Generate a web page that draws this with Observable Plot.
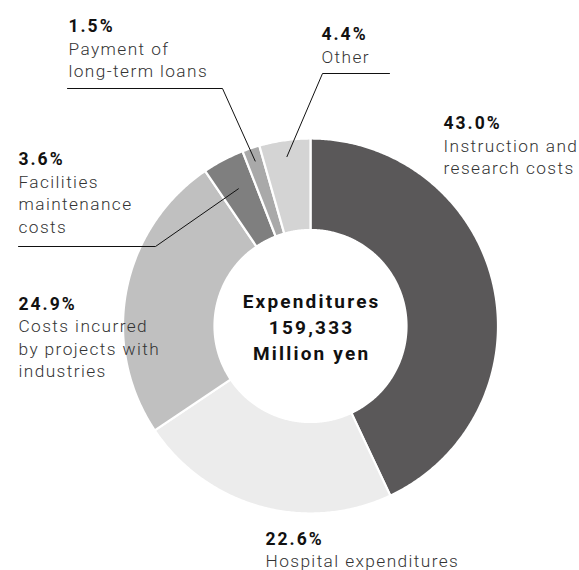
<!DOCTYPE html>
<html>
<head>
<meta charset="utf-8">
<script src="https://cdn.jsdelivr.net/npm/d3@7"></script>
<script src="https://cdn.jsdelivr.net/npm/@observablehq/plot@0.6"></script>
<style>
  html, body { margin: 0; padding: 0; background: #fff; }
</style>
</head>
<body>
<div id="chart"></div>
<script>
// ---- data ----
const categories = [
  "Instruction and research costs",
  "Hospital expenditures",
  "Costs incurred by projects with industries",
  "Facilities maintenance costs",
  "Payment of long-term loans",
  "Other"
];
const shares = [43.0, 22.6, 24.9, 3.6, 1.5, 4.4];
const sliceColors = ["#5a5859", "#ececec", "#c0c0c0", "#7f7f7f", "#a9a9a9", "#d4d4d4"];
const labelTexts = [
  "Instruction and\nresearch costs",
  "Hospital expenditures",
  "Costs incurred\nby projects with\nindustries",
  "Facilities\nmaintenance\ncosts",
  "Payment of\nlong-term loans",
  "Other"
];
const centerLines = ["Expenditures", "159,333", "Million yen"];

// ---- layout (pixels) ----
const W = 579, H = 570, cx = 310, cy = 325.5;
const rOuter = 187.5, rInner = 96;
// label anchor: left x and percent-line centre y (pixels)
const labelPos = [
  [443, 123], [265, 538.5], [18, 303.5], [18, 159], [68, 26], [321, 34]
];
const lineStep = 22.6;
// leader lines: slice index, horizontal start x, elbow x, y, radius of end point
const leaders = [
  {slice: 4, x0: 67, x1: 222, y: 88, r: 174},
  {slice: 5, x0: 389, x1: 322, y: 73, r: 171},
  {slice: 3, x0: 18, x1: 155, y: 246, r: 155}
];

const px = v => v - cx;       // pixel x -> data x
const py = v => cy - v;       // pixel y -> data y

const arcs = d3.pie().sort(null).startAngle(0).endAngle(2 * Math.PI)(shares);

// slice polygons
const polys = [];
arcs.forEach((a, i) => {
  const n = Math.max(2, Math.ceil((a.endAngle - a.startAngle) / (Math.PI / 360)));
  const pts = [];
  for (let k = 0; k <= n; k++) {
    const t = a.startAngle + (a.endAngle - a.startAngle) * k / n;
    pts.push({cat: categories[i], x: rOuter * Math.sin(t), y: rOuter * Math.cos(t)});
  }
  for (let k = n; k >= 0; k--) {
    const t = a.startAngle + (a.endAngle - a.startAngle) * k / n;
    pts.push({cat: categories[i], x: rInner * Math.sin(t), y: rInner * Math.cos(t)});
  }
  pts.push({...pts[0]});
  polys.push(...pts);
});

// leader line points
const leaderPts = [];
leaders.forEach((l, j) => {
  const a = arcs[l.slice];
  const mid = (a.startAngle + a.endAngle) / 2;
  leaderPts.push({id: j, x: px(l.x0), y: py(l.y)});
  leaderPts.push({id: j, x: px(l.x1), y: py(l.y)});
  leaderPts.push({id: j, x: l.r * Math.sin(mid), y: l.r * Math.cos(mid)});
});

const pctLabels = shares.map((s, i) => ({
  text: s.toFixed(1) + "%", x: px(labelPos[i][0]), y: py(labelPos[i][1])
}));
const catLabels = [];
labelTexts.forEach((t, i) => {
  t.split("\n").forEach((line, k) => {
    catLabels.push({text: line, x: px(labelPos[i][0]), y: py(labelPos[i][1] + lineStep * (k + 1))});
  });
});
const centerData = centerLines.map((t, k) => ({text: t, x: 0, y: py(301 + 26 * k)}));

const chart = Plot.plot({
  width: W,
  height: H,
  margin: 0,
  x: {domain: [-cx, W - cx], axis: null},
  y: {domain: [-(H - cy), cy], axis: null},
  color: {domain: categories, range: sliceColors},
  style: {fontFamily: "Roboto, 'Liberation Sans', sans-serif", background: "#fff"},
  marks: [
    Plot.line(polys, {x: "x", y: "y", z: "cat", fill: "cat", stroke: "white", strokeWidth: 2.2, curve: "linear"}),
    Plot.line(leaderPts, {x: "x", y: "y", z: "id", stroke: "#111", strokeWidth: 1}),
    Plot.text(pctLabels, {x: "x", y: "y", text: "text", textAnchor: "start", lineAnchor: "middle",
      fontSize: 17.5, fontWeight: "bold", fill: "#111", className: "pct"}),
    Plot.text(catLabels, {x: "x", y: "y", text: "text", textAnchor: "start", lineAnchor: "middle",
      fontSize: 17.3, fontWeight: 300, fill: "#333", className: "lab"}),
    Plot.text(centerData, {x: "x", y: "y", text: "text", textAnchor: "middle", lineAnchor: "middle",
      fontSize: 19, fontWeight: "bold", fill: "#111", className: "ctr"})
  ]
});
chart.querySelectorAll(".pct text").forEach(t => t.setAttribute("letter-spacing", "2"));
chart.querySelectorAll(".lab text").forEach(t => t.setAttribute("letter-spacing", "1.4"));
chart.querySelectorAll(".ctr text").forEach(t => { t.setAttribute("letter-spacing", "2.2"); t.setAttribute("dx", "1.1"); });
document.getElementById("chart").appendChild(chart);
</script>
</body>
</html>
